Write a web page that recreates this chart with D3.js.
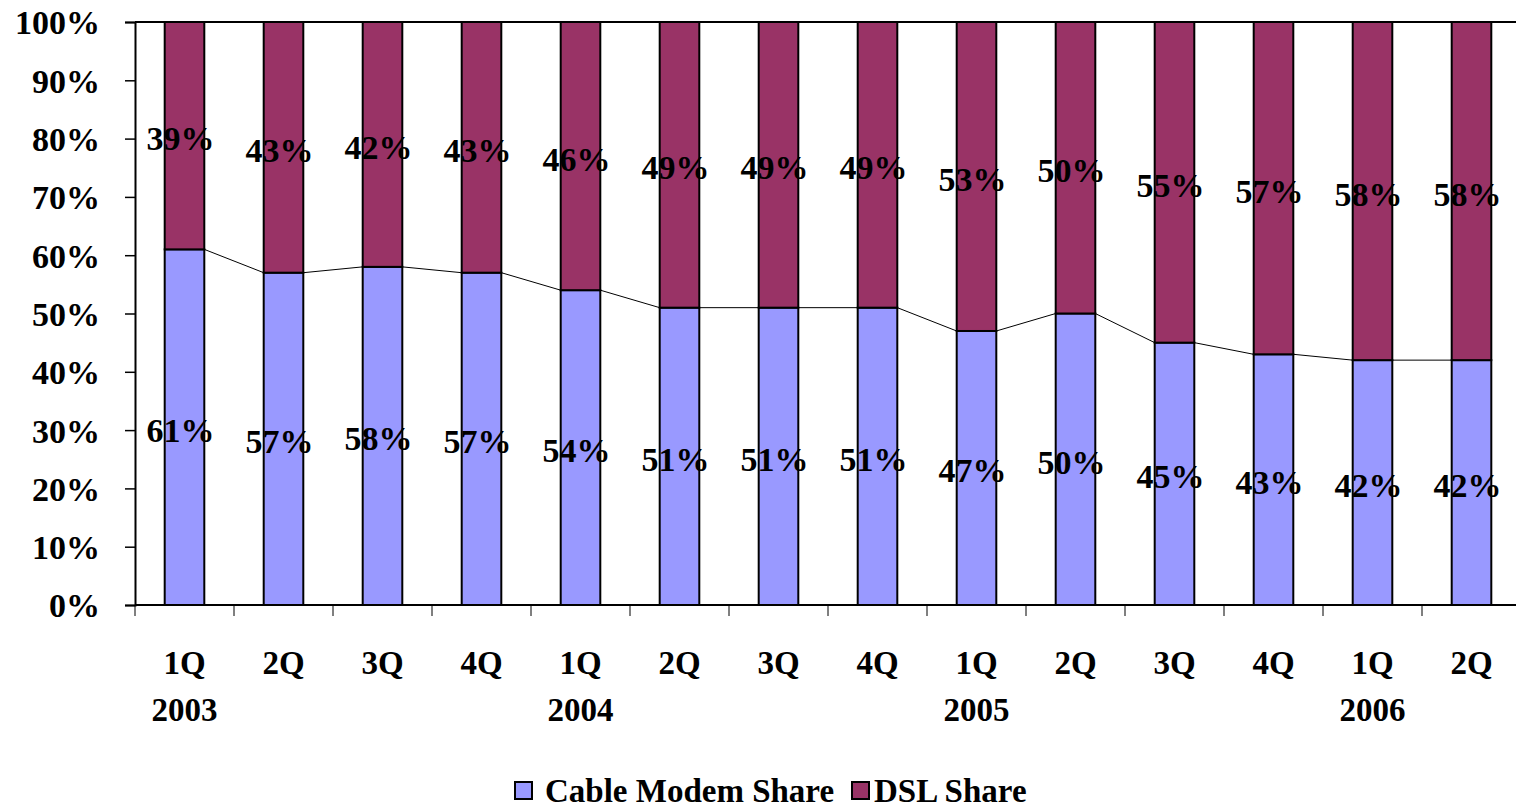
<!DOCTYPE html>
<html>
<head>
<meta charset="utf-8">
<script src="https://cdn.jsdelivr.net/npm/d3@7"></script>
<style>
  html, body { margin: 0; padding: 0; background: #fff; }
  svg { display: block; }
  text { font-family: "Liberation Serif", "Times New Roman", serif; font-weight: bold; fill: #000; }
</style>
</head>
<body>
<svg id="chart" width="1516" height="809"></svg>
<script>
// Quarterly broadband share, cable modem vs DSL (percent)
const quarters = ["1Q", "2Q", "3Q", "4Q", "1Q", "2Q", "3Q", "4Q", "1Q", "2Q", "3Q", "4Q", "1Q", "2Q"];
const years    = ["2003", "", "", "", "2004", "", "", "", "2005", "", "", "", "2006", ""];
const cableShare = [61, 57, 58, 57, 54, 51, 51, 51, 47, 50, 45, 43, 42, 42];
const dslShare   = [39, 43, 42, 43, 46, 49, 49, 49, 53, 50, 55, 57, 58, 58];
const yTicks = [0, 10, 20, 30, 40, 50, 60, 70, 80, 90, 100];
const seriesNames = ["Cable Modem Share", "DSL Share"];
const seriesColors = ["#9999FF", "#993366"];

const svg = d3.select("#chart");
const plotLeft = 135, plotRight = 1521, plotTop = 22, plotBottom = 605;

const x = d3.scaleBand()
  .domain(d3.range(quarters.length))
  .range([plotLeft, plotRight])
  .paddingInner(0.6)
  .paddingOuter(0.3);
const step = x.step();

const y = d3.scaleLinear().domain([0, 100]).range([plotBottom, plotTop]);

// Stacked segments
const rows = quarters.map((q, i) => ({ i, cable: cableShare[i], dsl: dslShare[i] }));
const stack = d3.stack().keys(["cable", "dsl"]);
const layers = stack(rows);

const g = svg.append("g");
layers.forEach((layer, k) => {
  g.selectAll(null)
    .data(layer)
    .enter().append("rect")
    .attr("x", d => x(d.data.i))
    .attr("width", x.bandwidth())
    .attr("y", d => y(d[1]))
    .attr("height", d => y(d[0]) - y(d[1]))
    .attr("fill", seriesColors[k])
    .attr("stroke", "#000")
    .attr("stroke-width", 2);
});

// Series lines joining the tops of the cable segments
const seg = g.append("g");
for (let i = 0; i < cableShare.length - 1; i++) {
  seg.append("line")
    .attr("x1", x(i) + x.bandwidth())
    .attr("y1", y(cableShare[i]))
    .attr("x2", x(i + 1))
    .attr("y2", y(cableShare[i + 1]))
    .attr("stroke", "#000")
    .attr("stroke-width", 1);
}

// Value labels centred in each segment
layers.forEach((layer, k) => {
  g.selectAll(null)
    .data(layer)
    .enter().append("text")
    .attr("x", d => x(d.data.i) + x.bandwidth() / 2 - 4)
    .attr("y", d => (y(d[0]) + y(d[1])) / 2 + 3)
    .attr("text-anchor", "middle")
    .attr("dominant-baseline", "central")
    .style("font-size", "34px")
    .text(d => (d[1] - d[0]) + "%");
});

// Top border of the plot area
svg.append("line")
  .attr("x1", plotLeft).attr("x2", plotRight)
  .attr("y1", plotTop).attr("y2", plotTop)
  .attr("stroke", "#000").attr("stroke-width", 2);

// Y axis
const yAxis = d3.axisLeft(y).tickValues(yTicks).tickFormat(d => d + "%").tickSize(10).tickPadding(25);
const ya = svg.append("g").attr("transform", `translate(${plotLeft},0)`).call(yAxis);
ya.select(".domain").attr("stroke", "#000").attr("stroke-width", 2);
ya.selectAll(".tick line").attr("stroke", "#000").attr("stroke-width", 1.5);
ya.selectAll(".tick text").style("font-size", "34px").attr("dy", "0.35em");

// X axis: baseline with ticks at category boundaries
svg.append("line")
  .attr("x1", plotLeft).attr("x2", plotRight)
  .attr("y1", plotBottom).attr("y2", plotBottom)
  .attr("stroke", "#000").attr("stroke-width", 2);
const boundaries = d3.range(quarters.length + 1).map(i => plotLeft + i * step);
svg.append("g").selectAll("line")
  .data(boundaries)
  .enter().append("line")
  .attr("x1", d => d).attr("x2", d => d)
  .attr("y1", plotBottom).attr("y2", plotBottom + 11)
  .attr("stroke", "#000").attr("stroke-width", 1);

const xl = svg.append("g");
xl.selectAll(null)
  .data(quarters)
  .enter().append("text")
  .attr("x", (d, i) => x(i) + x.bandwidth() / 2)
  .attr("y", 663)
  .attr("text-anchor", "middle")
  .attr("dominant-baseline", "central")
  .style("font-size", "33px")
  .text(d => d);
xl.selectAll(null)
  .data(years)
  .enter().append("text")
  .attr("x", (d, i) => x(i) + x.bandwidth() / 2)
  .attr("y", 710)
  .attr("text-anchor", "middle")
  .attr("dominant-baseline", "central")
  .style("font-size", "33px")
  .text(d => d);

// Legend
const legend = svg.append("g");
const items = [
  { name: seriesNames[0], color: seriesColors[0], x: 515, gap: 30 },
  { name: seriesNames[1], color: seriesColors[1], x: 852, gap: 22 }
];
items.forEach(it => {
  legend.append("rect")
    .attr("x", it.x).attr("y", 782)
    .attr("width", 17).attr("height", 17)
    .attr("fill", it.color)
    .attr("stroke", "#000").attr("stroke-width", 2);
  legend.append("text")
    .attr("x", it.x + it.gap).attr("y", 791)
    .attr("dominant-baseline", "central")
    .style("font-size", "33px")
    .text(it.name);
});
</script>
</body>
</html>
